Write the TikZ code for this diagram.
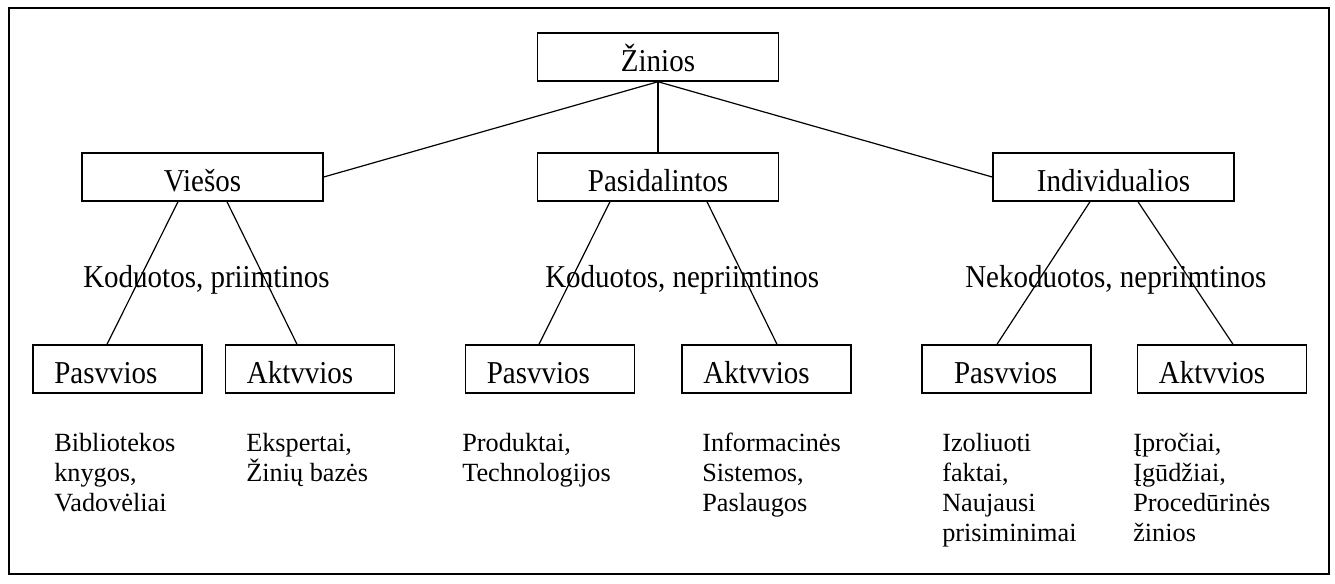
\documentclass[tikz,border=0pt]{standalone}
\usepackage{fontspec}
\setmainfont{Liberation Serif}
\newfontfamily\lblfont[FakeStretch=0.91]{Liberation Serif}
\usetikzlibrary{calc}
\begin{document}
\begin{tikzpicture}[x=0.75pt,y=-0.75pt,
  every node/.style={font=\lblfont\fontsize{23.9}{24}\selectfont},
  topbox/.style={draw, line width=1.1pt, minimum width=180.75pt, minimum height=36pt,
    inner ysep=0pt, text height=28.5pt, text depth=7.5pt},
  botbox/.style={draw, line width=1.1pt, minimum width=126.75pt, minimum height=36pt,
    inner ysep=0pt, inner xsep=16pt, text width=94.75pt, align=left,
    text height=28.5pt, text depth=7.5pt},
  link/.style={line width=0.9pt},
  desc/.style={anchor=base west, inner sep=0pt},
  info/.style={desc, font=\fontsize{19.7}{22.5}\selectfont},
]
\useasboundingbox (0,0) rectangle (1335,583);
\draw[line width=1.2pt] (9,8) rectangle (1329,574);

% top level
\node[topbox] (zin) at (658,57) {Žinios};
\node[topbox] (vie) at (202.5,177) {Viešos};
\node[topbox] (pas) at (658,177) {Pasidalintos};
\node[topbox] (ind) at (1113.5,177) {Individualios};

% bottom level
\node[botbox] (p1) at (117.5,369) {Pasvvios};
\node[botbox] (a1) at (310,369) {Aktvvios};
\node[botbox] (p2) at (550,369) {Pasvvios};
\node[botbox] (a2) at (766.5,369) {Aktvvios};
\node[botbox, inner xsep=24pt, text width=78.75pt] (p3) at (1006.5,369) {Pasvvios};
\node[botbox] (a3) at (1222,369) {Aktvvios};

% connectors
\draw[link] (zin.south) -- (vie.east);
\draw[link] (zin.south) -- (pas.north);
\draw[link] (zin.south) -- (ind.west);
\draw[link] ($(vie.south)+(-24.5,0)$) -- ($(p1.north)+(-10.5,0)$);
\draw[link] ($(vie.south)+(24.5,0)$) -- ($(a1.north)+(-13,0)$);
\draw[link] ($(pas.south)+(-48,0)$) -- ($(p2.north)+(-11,0)$);
\draw[link] ($(pas.south)+(49,0)$) -- ($(a2.north)+(10.5,0)$);
\draw[link] ($(ind.south)+(-23.5,0)$) -- ($(p3.north)+(-9.5,0)$);
\draw[link] ($(ind.south)+(24.5,0)$) -- ($(a3.north)+(11,0)$);

% middle labels
\node[desc] (l1) at (83,287) {Koduotos, priimtinos};
\node[desc] (l2) at (545,287) {Koduotos, nepriimtinos};
\node[desc] (l3) at (965,287) {Nekoduotos, nepriimtinos};

% descriptions
\node[info] (d1) at (54,451) {\parbox[t]{150pt}{\raggedright Bibliotekos\\knygos,\\Vadovėliai}};
\node[info] (d2) at (246,451) {\parbox[t]{150pt}{\raggedright Ekspertai,\\Žinių bazės}};
\node[info] (d3) at (462,451) {\parbox[t]{150pt}{\raggedright Produktai,\\Technologijos}};
\node[info] (d4) at (702,451) {\parbox[t]{150pt}{\raggedright Informacinės\\Sistemos,\\Paslaugos}};
\node[info] (d5) at (942,451) {\parbox[t]{150pt}{\raggedright Izoliuoti\\faktai,\\Naujausi\\prisiminimai}};
\node[info] (d6) at (1133,451) {\parbox[t]{150pt}{\raggedright Įpročiai,\\Įgūdžiai,\\Procedūrinės\\žinios}};
\end{tikzpicture}
\end{document}
